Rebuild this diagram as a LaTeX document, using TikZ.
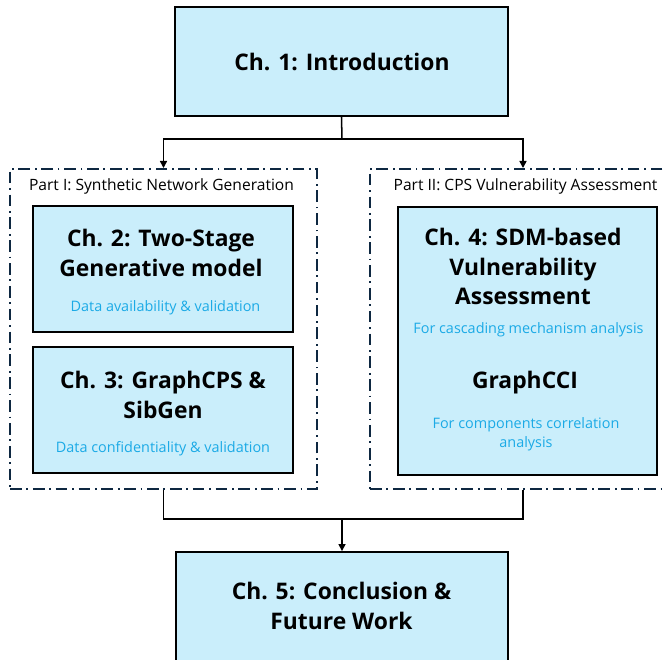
\documentclass[tikz,border=0pt]{standalone}
\usepackage{fontspec}
\setmainfont{Open Sans}
\usetikzlibrary{arrows.meta, calc}
\definecolor{boxfill}{HTML}{CAEEFB}
\definecolor{notecol}{HTML}{1BAAE6}
\definecolor{partcol}{HTML}{0E2841}
\tikzset{
  chapbox/.style={draw=black, line width=1.6pt, fill=boxfill, inner sep=0pt},
  partbox/.style={draw=partcol, line width=1.7pt, dash pattern=on 10pt off 4pt on 1.5pt off 4pt, inner sep=0pt},
  chaptitle/.style={font=\fontsize{19.5}{25.5}\selectfont\bfseries, align=center, inner sep=0pt},
  note/.style={font=\fontsize{12.3}{16}\selectfont, text=notecol, align=center, inner sep=0pt},
  parttitle/.style={font=\fontsize{13.3}{15}\selectfont, inner sep=0pt},
  link/.style={line width=1.3pt},
  arr/.style={link, -{Triangle[length=6pt, width=6pt]}}
}
\begin{document}
\begin{tikzpicture}[x=0.03cm, y=-0.03cm]
  \useasboundingbox (0,0) rectangle (667,659);
  \clip (0,0) rectangle (667,659);
  \path (341.5,61.5) node[chapbox, minimum width={333*0.03cm}, minimum height={109*0.03cm}] (intro) {}
  (163.5,329) node[partbox, minimum width={307*0.03cm}, minimum height={320*0.03cm}] (part1) {}
  (523,329) node[partbox, minimum width={306*0.03cm}, minimum height={320*0.03cm}] (part2) {}
  (163,269) node[chapbox, minimum width={260*0.03cm}, minimum height={126*0.03cm}] (ch2) {}
  (163,410) node[chapbox, minimum width={260*0.03cm}, minimum height={126*0.03cm}] (ch3) {}
  (527.5,341) node[chapbox, minimum width={259*0.03cm}, minimum height={268*0.03cm}] (ch4) {}
  (342,607) node[chapbox, minimum width={332*0.03cm}, minimum height={110*0.03cm}] (ch5) {};
  \node[chaptitle] (t1) at (342,62) {Ch. 1: Introduction};
  \node[parttitle] (p1) at (161.5,186) {Part I: Synthetic Network Generation};
  \node[parttitle] (p2) at (525.5,186) {Part II: CPS Vulnerability Assessment};
  \node[chaptitle] (t2) at (161,253) {Ch. 2: Two-Stage\\Generative model};
  \node[note] (n2) at (165.5,308) {Data availability \& validation};
  \node[chaptitle] (t3) at (163,394.5) {Ch. 3: GraphCPS \&\\SibGen};
  \node[note] (n3) at (163,449) {Data confidentiality \& validation};
  \node[chaptitle] (t4) at (523,266.5) {Ch. 4: SDM-based\\Vulnerability\\Assessment};
  \node[note] (n4) at (528.5,330) {For cascading mechanism analysis};
  \node[chaptitle] (t4b) at (525,383) {GraphCCI};
  \node[note] (n4b) at (526,434.5) {For components correlation\\analysis};
  \node[chaptitle] (t5) at (341.5,606) {Ch. 5: Conclusion \&\\Future Work};
  \coordinate (split) at (342,139);
  \coordinate (join) at (342,519);
  \draw[link] (intro.south) -- (split);
  \draw[arr] (split) -| (part1.north);
  \draw[arr] (split) -| (part2.north);
  \draw[link] (part1.south) |- (join);
  \draw[link] (part2.south) |- (join);
  \draw[arr] (join) -- (ch5.north);
\end{tikzpicture}
\end{document}
